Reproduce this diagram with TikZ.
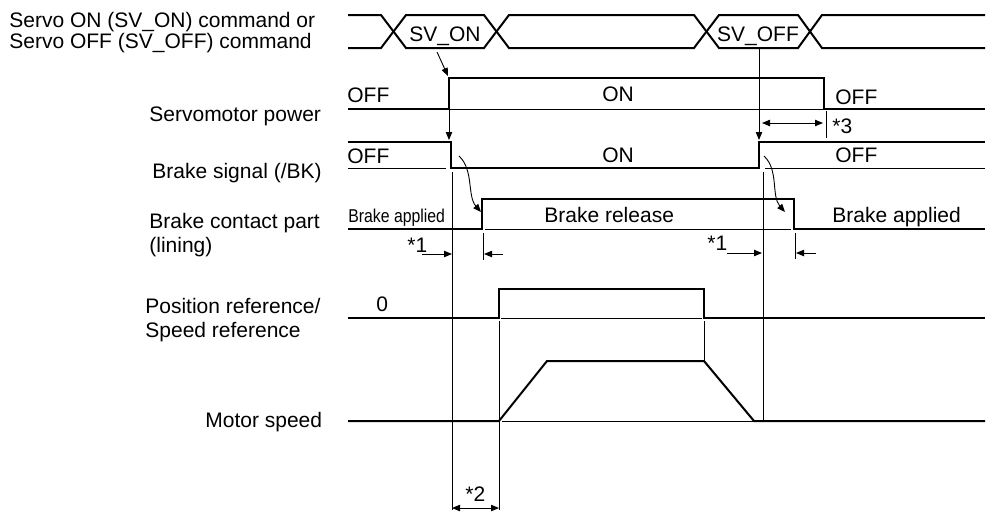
\documentclass[tikz,border=0pt]{standalone}
\usepackage{fontspec}
\setmainfont{Liberation Sans}
\usetikzlibrary{arrows.meta}

\begin{document}
\begin{tikzpicture}[x=0.5pt, y=-0.5pt,
    sig/.style={line width=1pt, line join=miter},
    guide/.style={line width=0.45pt},
    lbl/.style={font=\fontsize{10.5}{12}\selectfont, inner sep=0pt, anchor=base west},
    tip/.style={guide, -{Triangle[length=4pt, width=3.2pt]}},
    span/.style={guide, {Triangle[length=4pt, width=3.2pt]}-{Triangle[length=4pt, width=3.2pt]}},
  ]
  \useasboundingbox (0,0) rectangle (986,511);

  % signal names
  \node[lbl] (cmdon) at (9,27) {Servo ON (SV\_ON) command or};
  \node[lbl] (cmdoff) at (9,48) {Servo OFF (SV\_OFF) command};
  \node[lbl] (power) at (149,121) {Servomotor power};
  \node[lbl] (bk) at (152,178) {Brake signal (/BK)};
  \node[lbl] (lining) at (149,228) {Brake contact part};
  \node[lbl] (lining2) at (149,252) {(lining)};
  \node[lbl] (ref) at (145,313) {Position reference/};
  \node[lbl] (ref2) at (145,337) {Speed reference};
  \node[lbl] (speed) at (205,427) {Motor speed};

  % command
  \draw[sig] (348,15) -- (381,15) -- (406,48) -- (484,48) -- (509,15) -- (694,15) -- (719,48) -- (798,48) -- (822,15) -- (985,15);
  \draw[sig] (348,48) -- (381,48) -- (406,15) -- (484,15) -- (509,48) -- (694,48) -- (719,15) -- (798,15) -- (822,48) -- (985,48);
  \node[lbl, anchor=base] (svon) at (445,41) {SV\_ON};
  \node[lbl, anchor=base] (svoff) at (758,41) {SV\_OFF};

  % servomotor power
  \draw[sig] (348,109) -- (449,109) -- (449,78) -- (824,78) -- (824,109) -- (985,109);
  \draw[guide] (449,109) -- (824,109);
  \node[lbl] (pwoff) at (347,102) {OFF};
  \node[lbl] (pwon) at (602,101) {ON};
  \node[lbl] (pwoff2) at (835,104) {OFF};

  % brake signal
  \draw[sig] (348,142) -- (451,142) -- (451,168) -- (759,168) -- (759,142) -- (985,142);
  \draw[guide] (348,168) -- (446,168);
  \draw[guide] (765,168) -- (985,168);
  \node[lbl] (bkoff) at (347,163) {OFF};
  \node[lbl] (bkon) at (602,162) {ON};
  \node[lbl] (bkoff2) at (835,162) {OFF};

  % brake contact part
  \draw[sig] (348,229) -- (482,229) -- (482,199) -- (794,199) -- (794,229) -- (985,229);
  \draw[guide] (485,229) -- (791,229);
  \node[lbl, font=\fontsize{9.3}{11}\selectfont, xscale=0.85] (appl) at (348,222) {Brake applied};
  \node[lbl] (rel) at (544,222) {Brake release};
  \node[lbl] (appl2) at (832,222) {Brake applied};

  % position / speed reference
  \draw[sig] (348,318) -- (499,318) -- (499,289) -- (704,289) -- (704,318) -- (985,318);
  \draw[guide] (501,318) -- (702,318);
  \node[lbl] (zero) at (376,311) {0};

  % motor speed
  \draw[sig] (348,421) -- (499,421) -- (547,361) -- (704,361) -- (754,421) -- (985,421);
  \draw[guide] (502,421) -- (754,421);

  % timing guides
  \draw[tip] (437,52) -- (448,76);
  \draw[tip] (449,109) -- (449,140);
  \draw[tip] (759,48) -- (759,140);
  \draw[guide] (452,172) -- (452,510);
  \draw[guide] (763,172) -- (763,421);
  \draw[guide] (499,321) -- (499,510);
  \draw[guide] (704,321) -- (704,361);
  \draw[tip] (459,156) .. controls (474,170) and (467,196) .. (481,212);
  \draw[tip] (764,156) .. controls (779,170) and (771,196) .. (785,212);

  % *1
  \draw[tip] (422,254) -- (452,254);
  \draw[tip] (503,254) -- (484,254);
  \draw[guide] (483,233) -- (483,260);
  \node[lbl] (t1) at (407,252) {*1};
  \draw[tip] (727,253) -- (762,253);
  \draw[tip] (816,253) -- (796,253);
  \draw[guide] (795,233) -- (795,259);
  \node[lbl] (t1b) at (707,250) {*1};

  % *2
  \draw[span] (452,508) -- (499,508);
  \node[lbl] (t2) at (465,501) {*2};

  % *3
  \draw[span] (762,123) -- (823,123);
  \draw[guide] (826,111) -- (826,138);
  \node[lbl] (t3) at (832,133) {*3};
\end{tikzpicture}
\end{document}
